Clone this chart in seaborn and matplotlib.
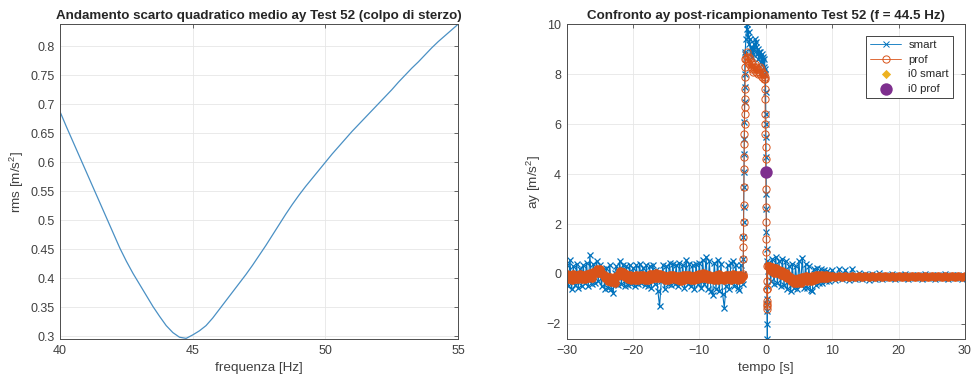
import numpy as np
import seaborn as sns
import matplotlib.pyplot as plt
from matplotlib.ticker import StrMethodFormatter

# ---- left: rms vs resampling frequency (every 0.25 Hz from 40 Hz) ----
rms = [0.687, 0.660, 0.634, 0.608, 0.582, 0.556, 0.530, 0.504, 0.478, 0.452,
       0.429, 0.408, 0.389, 0.370, 0.351, 0.334, 0.318, 0.306, 0.298, 0.296,
       0.302, 0.309, 0.318, 0.331, 0.346, 0.361, 0.376, 0.391, 0.406, 0.422,
       0.439, 0.456, 0.474, 0.492, 0.510, 0.527, 0.543, 0.558, 0.572, 0.586,
       0.600, 0.614, 0.627, 0.640, 0.653, 0.665, 0.677, 0.689, 0.701, 0.713,
       0.725, 0.738, 0.750, 0.762, 0.773, 0.785, 0.797, 0.808, 0.818, 0.828,
       0.838]
freq = 40 + 0.25 * np.arange(len(rms))

# ---- right: ay after resampling (f = 44.5 Hz) ----
# smart, baseline before the manoeuvre (every 0.25 s from -30 s)
smart_pre = [0.35, -0.5, 0.55, -0.6, 0.3, -0.45, 0.4, -0.55,
             0.2, -0.5, 0.35, -0.35, 0.45, -0.5, 0.75, -0.4,
             0.4, -0.35, 0.5, -0.3, 0.35, -0.5, 0.2, -0.6,
             0.25, -0.55, 0.35, -0.6, -0.75, 0.05, 0.3, -0.45,
             0.5, -0.4, 0.35, -0.5, 0.3, -0.45, 0.35, -0.4,
             0.25, -0.5, 0.35, -0.4, 0.4, -0.35, 0.25, -0.45,
             0.35, -0.5, 0.3, -0.55, 0.35, -0.4, 0.15, -0.7,
             -1.3, -0.3, 0.35, -0.6, 0.3, -0.4, 0.45, -0.45,
             0.4, -0.4, 0.35, -0.5, 0.45, -0.3, 0.35, -0.55,
             0.55, -0.4, 0.4, -0.5, 0.35, -0.6, 0.4, -0.4,
             0.45, -0.55, 0.55, -0.4, 0.7, -0.6, 0.5, -0.7,
             -0.85, 0.45, -0.6, 0.55, -0.7, 0.4, -0.8, -1.35,
             -0.5, 0.35, -0.6, 0.45, 0.5, -0.5, 0.35, -0.55,
             -0.65, 0.35, -0.4]
# smart, rising edge (every 0.02 s from -3.40 s)
smart_rise = [0.0, 0.6, 1.5, 2.1, 2.7, 3.5, 4.1, 4.8, 5.4, 6.1, 6.9, 7.5, 8.0, 8.8]
# smart, plateau (every 0.1 s from -3.1 s)
smart_top = [8.9, 9.4, 9.8, 10.0, 9.5, 9.7, 9.2, 9.4, 8.9, 9.1, 8.7, 9.0, 8.8,
             9.2, 9.0, 9.4, 9.1, 9.3, 8.8, 9.0, 8.6, 8.9, 8.7, 8.9, 8.5, 8.8,
             8.4, 8.7, 8.3, 8.6, 8.2]
# smart, falling edge (every 0.02 s from -0.06 s)
smart_fall = [8.0, 7.3, 6.4, 6.0, 5.5, 4.7, 3.2, 2.6, 1.7, 1.0, 0.5, -0.5,
              -1.0, -1.5, -2.0, -2.6, -1.2, 0.1, 0.4]
# smart, after the manoeuvre (every 0.25 s from 0.5 s)
smart_post = [0.45, -0.3, 0.6, -0.4, 0.7, -0.35, 0.5, -0.5, 0.6, -0.45, 0.5, -0.6,
              0.3, -0.7, 0.4, -0.55, 0.3, -0.6, 0.5, -0.45, 0.65, -0.55, 0.4, -0.55,
              0.3, -0.65, -0.7, 0.2, -0.45, 0.25, -0.35, 0.2, -0.35, 0.15, -0.3,
              0.1, -0.3, 0.05]
# smart, tail (every 0.5 s from 10 s)
smart_tail = [0.15, -0.25, 0.2, -0.2, 0.15, -0.25, 0.2, -0.2, 0.05, -0.2,
              0.0, -0.25, 0.0, -0.2, 0.05, -0.2, -0.05, -0.15, 0.0, -0.2,
              -0.05, -0.15, 0.0, -0.2, -0.05, -0.15, -0.05, -0.2, 0.0, -0.15,
              -0.05, -0.2, -0.05, -0.15, 0.0, -0.2, -0.05, -0.15, -0.05, -0.2,
              -0.1]

# prof, baseline (every 0.25 s from -30 s)
prof_pre = [0.0, -0.2, -0.03, -0.23, -0.01, -0.19, -0.05, -0.22,
            0.0, -0.2, -0.03, -0.21, 0.01, -0.17, 0.03, -0.15,
            0.07, 0.03, 0.2, 0.05, 0.19, 0.0, 0.0, -0.17,
            -0.1, -0.27, -0.13, -0.33, -0.2, -0.35, -0.07, -0.1,
            0.1, -0.05, 0.07, -0.13, 0.0, -0.2, -0.05, -0.23,
            -0.07, -0.25, -0.05, -0.23, -0.03, -0.21, -0.05, -0.25,
            -0.07, -0.23, -0.01, -0.19, 0.0, -0.17, 0.03, -0.15,
            0.0, -0.17, -0.05, -0.23, -0.07, -0.25, -0.05, -0.21,
            -0.03, -0.21, -0.07, -0.25, -0.09, -0.27, -0.05, -0.23,
            -0.03, -0.21, -0.05, -0.23, -0.07, -0.25, -0.03, -0.2,
            0.0, -0.17, 0.03, -0.15, 0.01, -0.19, -0.03, -0.21,
            -0.07, -0.25, -0.05, -0.23, -0.01, -0.21, -0.07, -0.25,
            -0.03, -0.21, -0.05, -0.23, -0.01, -0.19, -0.05, -0.23,
            -0.03, -0.2, -0.1]
# prof, rising edge (every 0.02 s from -3.42 s)
prof_rise = [0.0, 0.6, 1.1, 1.5, 2.1, 2.75, 3.5, 4.2, 4.7, 5.2, 5.6, 6.0,
             6.4, 6.7, 7.0, 7.4, 7.9, 8.3, 8.6]
# prof, plateau (every 0.1 s from -3.0 s)
prof_top = [8.6, 8.9, 8.7, 8.5, 8.7, 8.4, 8.6, 8.3, 8.5, 8.2, 8.4, 8.1, 8.3,
            8.2, 8.4, 8.1, 8.3, 8.2, 8.0, 8.2, 8.1, 8.3, 8.0, 8.2, 7.9, 8.1,
            8.0, 7.8, 8.0, 7.9]
# prof, falling edge (every 0.02 s from -0.16 s)
prof_fall = [7.8, 7.4, 7.0, 6.4, 6.0, 5.6, 5.1, 4.6, 4.1, 3.4, 2.7, 2.1,
             1.4, 0.9, 0.3, -0.3, -0.6, -1.1, -1.3, -1.4, -1.2, -0.6, 0.3]
# prof, after the manoeuvre (every 0.25 s from 0.5 s)
prof_post = [0.3, 0.1, 0.27, 0.05, 0.23, 0.03, 0.17, -0.03, 0.13, -0.1,
             0.05, -0.17, -0.1, -0.3, -0.17, -0.37, -0.2, -0.38, -0.17, -0.35,
             -0.13, -0.15, -0.09, -0.27, -0.11, -0.29, -0.09, -0.25, -0.05, -0.21,
             -0.04, -0.18, -0.05, -0.16, -0.05, -0.15, -0.07, -0.13]
# prof, tail (every 0.5 s from 10 s)
prof_tail = [-0.07, -0.13, -0.08, -0.12, -0.07, -0.13, -0.08, -0.12, -0.07, -0.13,
             -0.08, -0.12, -0.07, -0.13, -0.08, -0.12, -0.07, -0.13, -0.08, -0.12,
             -0.07, -0.13, -0.08, -0.12, -0.07, -0.13, -0.08, -0.12, -0.07, -0.13,
             -0.08, -0.12, -0.07, -0.13, -0.08, -0.12, -0.07, -0.13, -0.08, -0.12,
             -0.1]

t_i0, ay_i0 = 0.0, 4.1


def times(start, step, vals):
    return start + step * np.arange(len(vals))


t_smart = np.concatenate([times(-30, 0.25, smart_pre), times(-3.40, 0.02, smart_rise),
                          times(-3.1, 0.1, smart_top), times(-0.06, 0.02, smart_fall),
                          times(0.5, 0.25, smart_post), times(10, 0.5, smart_tail)])
ay_smart = np.concatenate([smart_pre, smart_rise, smart_top, smart_fall, smart_post, smart_tail])

# prof split in dense (quiet) stretches and the sparse manoeuvre, sharing end points
t_pre = times(-30, 0.25, prof_pre)
t_post = np.concatenate([times(0.5, 0.25, prof_post), times(10, 0.5, prof_tail)])
ay_post = np.concatenate([prof_post, prof_tail])
t_mid = np.concatenate([t_pre[-1:], times(-3.42, 0.02, prof_rise), times(-3.0, 0.1, prof_top),
                        times(-0.16, 0.02, prof_fall), t_post[:1]])
ay_mid = np.concatenate([prof_pre[-1:], prof_rise, prof_top, prof_fall, ay_post[:1]])

sns.set_style("whitegrid", {"grid.color": "#e6e6e6", "axes.edgecolor": "#4d4d4d"})
plt.rcParams["font.family"] = ["Liberation Sans", "DejaVu Sans"]
plt.rcParams["mathtext.default"] = "regular"
plt.rcParams["axes.linewidth"] = 0.7
plt.rcParams["grid.linewidth"] = 0.6

blue = "#0072BD"
orange = "#D95319"
yellow = "#EDB120"
purple = "#7E2F8E"
txt = "#404040"

fig = plt.figure(figsize=(9.76, 3.83), dpi=100)
ax1 = fig.add_axes([0.0615, 0.115, 0.408, 0.822])
ax2 = fig.add_axes([0.5806, 0.115, 0.408, 0.822])

sns.lineplot(x=freq, y=rms, ax=ax1, color="#4a90c4", linewidth=0.9)
ax1.set_xlim(40, 55)
ax1.set_ylim(0.295, 0.838)
ax1.set_xticks([40, 45, 50, 55])
ax1.set_yticks(np.arange(0.3, 0.801, 0.05))
ax1.yaxis.set_major_formatter(StrMethodFormatter("{x:g}"))
ax1.set_title("Andamento scarto quadratico medio ay Test 52 (colpo di sterzo)",
              fontsize=9.6, fontweight="bold", pad=4)
ax1.set_xlabel("frequenza [Hz]", fontsize=9.7, color=txt, labelpad=4)
ax1.set_ylabel("rms [m/s$^2$]", fontsize=9.7, color=txt, labelpad=3)

sns.lineplot(x=t_smart, y=ay_smart, ax=ax2, sort=False, estimator=None, color=blue,
             linewidth=0.8, marker="x", markersize=4.5, markeredgecolor=blue,
             markeredgewidth=0.9, label="smart")
# quiet stretches: thousands of overlapping circles in the original read as a solid band
dense = dict(ax=ax2, sort=False, estimator=None, color=orange, linewidth=1.5,
             marker="o", markersize=5.4, markerfacecolor=orange,
             markeredgecolor=orange, markeredgewidth=0.8)
sns.lineplot(x=t_pre, y=prof_pre, **dense)
sns.lineplot(x=t_post, y=ay_post, **dense)
sns.lineplot(x=t_mid, y=ay_mid, ax=ax2, sort=False, estimator=None, color=orange,
             linewidth=0.6, marker="o", markersize=5.2, markerfacecolor="none",
             markeredgecolor=orange, markeredgewidth=0.7, label="prof")
sns.scatterplot(x=[t_i0], y=[ay_i0], ax=ax2, marker="D", color=yellow, s=22,
                linewidth=0, label="i0 smart", zorder=5)
sns.scatterplot(x=[t_i0], y=[ay_i0], ax=ax2, marker="o", color=purple, s=80,
                linewidth=0, label="i0 prof", zorder=6)
ax2.set_xlim(-30, 30)
ax2.set_ylim(-2.6, 10)
ax2.set_xticks(np.arange(-30, 31, 10))
ax2.set_yticks(np.arange(-2, 11, 2))
ax2.set_title("Confronto ay post-ricampionamento Test 52 (f = 44.5 Hz)",
              fontsize=9.6, fontweight="bold", pad=4)
ax2.set_xlabel("tempo [s]", fontsize=9.7, color=txt, labelpad=4)
ax2.set_ylabel("ay [m/s$^2$]", fontsize=9.7, color=txt, labelpad=3)
leg = ax2.legend(loc="upper right", bbox_to_anchor=(0.97, 0.962), frameon=True,
                 fancybox=False, framealpha=1, edgecolor="#262626", fontsize=8.2,
                 handlelength=2.8, borderpad=0.35, labelspacing=0.4,
                 handletextpad=0.6, borderaxespad=0)
leg.get_frame().set_linewidth(0.6)
for h in leg.legend_handles[:2]:
    h.set_markeredgewidth(0.7)
    h.set_linewidth(0.6)

for ax in (ax1, ax2):
    ax.tick_params(direction="in", top=True, right=True, length=3, width=0.6,
                   labelsize=9, labelcolor=txt, color="#4d4d4d", pad=4)
    for s in ax.spines.values():
        s.set_visible(True)

fig.savefig("out.png", dpi=100)
